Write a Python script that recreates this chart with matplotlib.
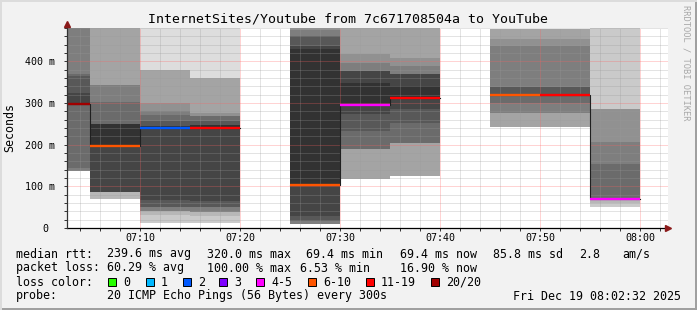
import numpy as np
import matplotlib.pyplot as plt
from matplotlib.patches import Rectangle
from matplotlib.lines import Line2D

W, H = 697, 310
nan = np.nan

# 5 minute steps, start minute after 07:00
t_start = [0, 5, 10, 15, 20, 25, 30, 35, 40, 45, 50, 55, 60]

# 20 sorted ping times (ms) per step, nan = not drawn
pings = [
    [nan] * 5 + [137, 145, 296, 296, 296, 296, 325, 365, 369, 600] + [nan] * 5,
    [nan, nan, 70, 86, 86, 86, 86, 86, 86, 197, 249, 249, 249, 303, 343, 343, 600, 600, nan, nan],
    [11, 11, 32, 40, 40, 40, 51, 51, 67, 240, 245, 245, 257, 272, 281, 301, 379, 379, 379, 600],
    [12, 12, 28, 38, 38, 38, 51, 51, 65, 241, 246, 246, 257, 270, 270, 277, 361, 361, 361, 600],
    [nan] * 20,
    [nan] * 4 + [10, 10, 18, 18, 29.5, 104, 429, 437, 461, 461, 475, 600] + [nan] * 4,
    [nan, nan, nan, 117.5, 189, 189, 189, 233, 273, 296, 349, 377, 377, 377, 397, 417, 600, nan, nan, nan],
    [nan, nan, nan, 125.5, 204, 204, 204, 253, 285, 312, 341, 369, 369, 369, 389, 409, 600, nan, nan, nan],
    [nan] * 20,
    [nan, nan, nan, 243, 277, 277, 301, 320, 320, 320, 320, 320, 339, 339, 437, 453, 478, nan, nan, nan],
    [nan, nan, nan, 243, 277, 277, 301, 320, 320, 320, 320, 320, 339, 339, 437, 453, 478, nan, nan, nan],
    [nan, 51, 60, 67, 67, 67, 67, 67, 67, 67, 67, 67, 69.4, 153, 205.5, 285, 285, 285, 600, nan],
    [nan] * 20,
]
median = [296.6, 197, 239.6, 241, nan, 103.5, 296, 312, nan, 320, 320, 69.4, nan]
loss = ['20/20', '6-10', '2', '11-19', None, '6-10', '4-5', '11-19', None, '6-10', '11-19', '4-5', None]

loss_names = ['0', '1', '2', '3', '4-5', '6-10', '11-19', '20/20']
loss_colors = ['#26ff00', '#00b8ff', '#0059ff', '#7e00ff', '#ff00ff', '#ff5500', '#ff0000', '#a10000']
lc = dict(zip(loss_names, loss_colors))

xticks = [10, 20, 30, 40, 50, 60]
xlabels = ['07:10', '07:20', '07:30', '07:40', '07:50', '08:00']
yticks = [0, 100, 200, 300, 400]
ylabels = ['0 ', '100 m', '200 m', '300 m', '400 m']

title = 'InternetSites/Youtube from 7c671708504a to YouTube'
rows = [
    [(16, 'median rtt:'), (107, '239.6 ms avg'), (207, '320.0 ms max'), (306, '69.4 ms min'),
     (400, '69.4 ms now'), (493, '85.8 ms sd'), (579, '2.8'), (622, 'am/s')],
    [(16, 'packet loss:'), (107, '60.29 % avg'), (207, '100.00 % max'), (300, '6.53 % min'),
     (400, '16.90 % now')],
    [(16, 'loss color:')],
    [(16, 'probe:'), (107, '20 ICMP Echo Pings (56 Bytes) every 300s'), (513, 'Fri Dec 19 08:02:32 2025')],
]
row_y = [254, 268, 282, 296]
swatch_x = [108, 146, 183, 219, 256, 308, 366, 431]

plt.rcParams['font.family'] = 'DejaVu Sans Mono'

def fx(x):
    return x / W

def fy(y):
    return 1 - y / H

fig = plt.figure(figsize=(W / 100, H / 100), dpi=100, facecolor='#f2f2f2')
ax = fig.add_axes([fx(67), fy(228), (668 - 67) / W, 200 / H])
ax.set_xlim(2.7, 62.8)
ax.set_ylim(0, 480)

# smoke: pair i from outside in, darker towards the middle
for t, p in zip(t_start, pings):
    p = np.array(p, float)
    n = len(p)
    half = n // 2
    for k in range(1, half + 1):
        lo, hi = p[k - 1], p[n - k]
        if np.isnan(lo) or np.isnan(hi) or hi <= lo:
            continue
        g = int(190 / half * (half - k)) + 50
        ax.bar(t, hi - lo, bottom=lo, width=5, align='edge', color='#%02x%02x%02x' % (g, g, g),
               linewidth=0, antialiased=False, zorder=1)

# median line
edges = t_start + [t_start[-1] + 5]
ax.step(edges, median + [median[-1]], where='post', color='#202020', lw=0.8, zorder=3)
for t, m, l in zip(t_start, median, loss):
    if l is None or np.isnan(m):
        continue
    ax.hlines(m, t, t + 5, colors=lc[l], lw=1.7, zorder=4)

ax.set_xticks(xticks, xlabels)
ax.set_xticks(np.arange(4, 63, 2), minor=True)
ax.set_yticks(yticks, ylabels)
ax.set_yticks(np.arange(0, 481, 20), minor=True)
ax.tick_params(which='both', labelsize=7.2, length=2, width=0.7, color='#333333')
ax.tick_params(axis='x', which='both', pad=1.5)
ax.tick_params(axis='y', which='both', pad=6.5)
ax.set_axisbelow(False)
ax.grid(which='major', color='#ff6060', alpha=0.55, linestyle=(0, (1, 1)), lw=0.72)
ax.grid(which='minor', color='#9a9a9a', alpha=0.55, linestyle=(0, (1, 1)), lw=0.72)
for s in ax.spines.values():
    s.set_visible(False)

# axis lines with arrows
fig.add_artist(Line2D([fx(67), fx(666)], [fy(228), fy(228)], color='black', lw=0.9))
fig.add_artist(Line2D([fx(67), fx(67)], [fy(228), fy(24)], color='#333333', lw=0.9))
fig.add_artist(Line2D([fx(668)], [fy(228)], marker='>', markersize=4.5, color='#8b1a1a', lw=0))
fig.add_artist(Line2D([fx(67)], [fy(24)], marker='^', markersize=4.5, color='#8b1a1a', lw=0))

# frame
fig.add_artist(Rectangle((0, 0), 1, 2 / H, transform=fig.transFigure, color='#a0a0a0', lw=0))
fig.add_artist(Rectangle((1 - 2 / W, 0), 2 / W, 1, transform=fig.transFigure, color='#a0a0a0', lw=0))
fig.add_artist(Rectangle((0, 1 - 2 / H), 1, 2 / H, transform=fig.transFigure, color='#dcdcdc', lw=0))
fig.add_artist(Rectangle((0, 0), 2 / W, 1, transform=fig.transFigure, color='#dcdcdc', lw=0))

fig.text(fx(348), fy(19), title, ha='center', va='center', fontsize=9.5)
fig.text(fx(10), fy(127), 'Seconds', rotation=90, ha='center', va='center', fontsize=8.4)
fig.text(fx(686), fy(5), 'RRDTOOL / TOBI OETIKER', rotation=-90, ha='center', va='top',
         fontsize=6.3, color='#a8a8a8')

for segs, y in zip(rows, row_y):
    for x, s in segs:
        fig.text(fx(x), fy(y), s, ha='left', va='center', fontsize=8.4)

for x, name, col in zip(swatch_x, loss_names, loss_colors):
    fig.add_artist(Rectangle((fx(x), fy(286)), 8 / W, 8 / H, transform=fig.transFigure,
                             facecolor=col, edgecolor='black', lw=0.7))
    fig.text(fx(x + 15), fy(282), name, ha='left', va='center', fontsize=8.4)

fig.savefig('out.png', dpi=100, facecolor=fig.get_facecolor())
